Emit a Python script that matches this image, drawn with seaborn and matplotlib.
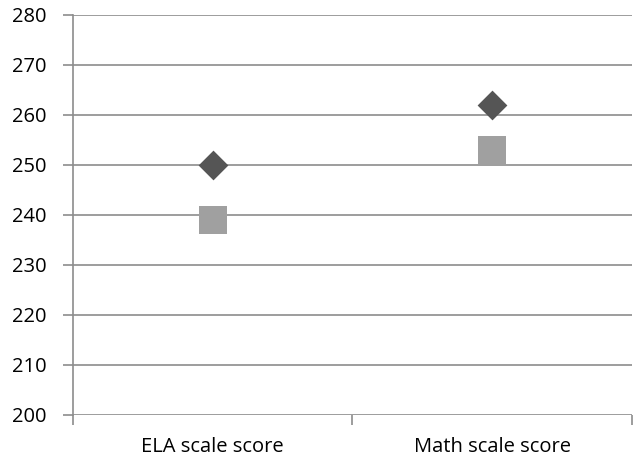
import numpy as np
import pandas as pd
import matplotlib
matplotlib.use("Agg")
import matplotlib.pyplot as plt
import seaborn as sns

# Values
categories = ["ELA scale score", "Math scale score"]
series_a = [250, 262]   # dark diamonds
series_b = [239, 253]   # light squares
y_ticks = [200, 210, 220, 230, 240, 250, 260, 270, 280]

df = pd.DataFrame({
    "category": categories * 2,
    "score": series_a + series_b,
    "series": ["A"] * len(categories) + ["B"] * len(categories),
})

sns.set_style("white")
plt.rcParams["font.family"] = ["Open Sans", "DejaVu Sans"]

fig = plt.figure(figsize=(6.35, 4.62), dpi=100)
ax = fig.add_axes([0.115, 0.102, 0.88, 0.866])

grid_col = "#8c8c8c"
for y in y_ticks:
    ax.axhline(y, color=grid_col, lw=1.2, zorder=0)

# diamonds and squares drawn separately so each gets its own size
sns.scatterplot(data=df[df.series == "A"], x="category", y="score",
                marker="D", color="#555555", s=230, linewidth=0,
                legend=False, ax=ax, zorder=3)
sns.scatterplot(data=df[df.series == "B"], x="category", y="score",
                marker="s", color="#a0a0a0", s=380, linewidth=0,
                legend=False, ax=ax, zorder=3)

ax.set_xlim(-0.5, 1.5)
ax.set_ylim(200, 280)
ax.set_yticks(y_ticks)
ax.set_xticks(range(len(categories)))
ax.set_xticklabels(categories)
ax.set_xticks([-0.5, 0.5, 1.5], minor=True)
ax.set_xlabel("")
ax.set_ylabel("")

for side in ["top", "right", "bottom"]:
    ax.spines[side].set_visible(False)
ax.spines["left"].set_color(grid_col)
ax.spines["left"].set_linewidth(1.2)

ax.tick_params(axis="y", which="major", direction="out", length=7, width=1.2,
               color=grid_col, labelsize=14.5, labelcolor="black", pad=12, left=True)
ax.tick_params(axis="x", which="major", length=0, labelsize=14.5,
               labelcolor="black", pad=16)
ax.tick_params(axis="x", which="minor", direction="out", length=7, width=1.2,
               color=grid_col, bottom=True)

fig.savefig("out.png", dpi=100)
